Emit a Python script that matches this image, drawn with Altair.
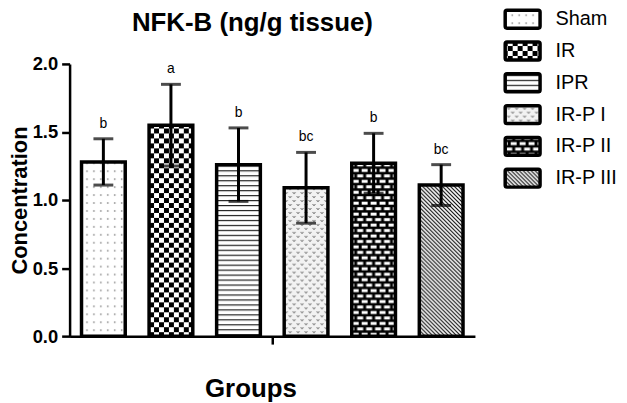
import altair as alt
import pandas as pd
import jinja2

# ---- data ----
groups = ["Sham", "IR", "IPR", "IR-P I", "IR-P II", "IR-P III"]
means = [1.28, 1.55, 1.26, 1.09, 1.27, 1.11]
sds = [0.17, 0.30, 0.27, 0.26, 0.22, 0.15]
letters = ["b", "a", "b", "bc", "b", "bc"]
y_ticks = [0.0, 0.5, 1.0, 1.5, 2.0]

# ---- styling: one hatch pattern per group (defined in the page template) ----
pattern_fills = ["url(#pSham)", "url(#pIR)", "url(#pIPR)",
                 "url(#pIRP1)", "url(#pIRP2)", "url(#pIRP3)"]

df = pd.DataFrame({"group": groups, "mean": means, "sd": sds, "letter": letters})

FONT = "Liberation Sans"

x_enc = alt.X(
    "group:N",
    sort=groups,
    scale=alt.Scale(domain=groups, paddingInner=0, paddingOuter=0),
    axis=alt.Axis(
        values=["IPR"], bandPosition=1, labels=False,
        tickSize=8, tickWidth=2.5, tickColor="black",
        domainWidth=2.5, domainColor="black", grid=False,
        title="Groups", titleFont=FONT, titleFontSize=26, titleFontWeight="bold",
        titleColor="black", titleX=182, titleY=61, titleAlign="center",
        titleBaseline="alphabetic",
    ),
)

y_scale = alt.Scale(domain=[0, 2], nice=False, zero=True)
y_axis = alt.Axis(
    values=y_ticks, format=".1f",
    labelFont=FONT, labelFontSize=18.5, labelFontWeight="bold", labelColor="black",
    labelPadding=4, labelFlush=False,
    tickSize=8, tickWidth=2.5, tickColor="black",
    domainWidth=2.5, domainColor="black", grid=False,
    title="Concentration", titleFont=FONT, titleFontSize=22, titleFontWeight="bold",
    titleColor="black", titleX=-50, titleY=137, titleAngle=270,
    titleAlign="center", titleBaseline="middle",
)

# rounded rectangle swatch, 34 x 18 px at symbolSize 324 (unit = 9 px)
legend_shape = ("M-1.75,-1 H1.75 A0.2,0.2 0 0 1 1.95,-0.8 V0.8 A0.2,0.2 0 0 1 1.75,1 "
                "H-1.75 A0.2,0.2 0 0 1 -1.95,0.8 V-0.8 A0.2,0.2 0 0 1 -1.75,-1 Z")

base = alt.Chart(df).transform_calculate(
    lo="datum.mean - datum.sd", hi="datum.mean + datum.sd"
)

bars = base.mark_bar(width=44, stroke="black", strokeWidth=3.5).encode(
    x=x_enc,
    y=alt.Y("mean:Q", scale=y_scale, axis=y_axis),
    fill=alt.Fill(
        "group:N",
        scale=alt.Scale(domain=groups, range=pattern_fills),
        legend=alt.Legend(
            title=None, orient="none", legendX=445, legendY=-56, padding=0,
            symbolType=legend_shape, symbolSize=324,
            symbolStrokeColor="black", symbolStrokeWidth=3.5, symbolOpacity=1,
            labelFont=FONT, labelFontSize=20, labelColor="black",
            labelOffset=22, rowPadding=0,
        ),
    ),
)

err = base.mark_rule(strokeWidth=3, color="black").encode(
    x=x_enc, y=alt.Y("lo:Q", scale=y_scale, axis=y_axis), y2="hi:Q"
)
cap_hi = base.mark_tick(orient="horizontal", size=20, thickness=3, color="black").encode(
    x=x_enc, y=alt.Y("hi:Q", scale=y_scale, axis=y_axis)
)
cap_lo = base.mark_tick(orient="horizontal", size=20, thickness=3, color="black").encode(
    x=x_enc, y=alt.Y("lo:Q", scale=y_scale, axis=y_axis)
)
labels = base.mark_text(font=FONT, fontSize=14, color="black",
                        baseline="alphabetic", dy=-11).encode(
    x=x_enc, y=alt.Y("hi:Q", scale=y_scale, axis=y_axis), text="letter:N"
)

chart = alt.layer(bars, err, cap_hi, cap_lo, labels).properties(
    width=408, height=274,
    autosize=alt.AutoSizeParams(type="none"),
    padding={"left": 62, "top": 55, "right": 145, "bottom": 66},
    title=alt.TitleParams(
        text="NFK-B (ng/g tissue)", font=FONT, fontSize=26, fontWeight="bold",
        color="black", anchor="middle", dx=-20, offset=-28,
    ),
).configure_view(stroke=None)

PATTERNS = """
<svg width="0" height="0" style="position:absolute;left:0;top:0" aria-hidden="true">
 <defs>
  <pattern id="pSham" patternUnits="userSpaceOnUse" width="7" height="8">
   <rect width="7" height="8" fill="#ffffff"/>
   <circle cx="3.5" cy="4" r="0.75" fill="#555555"/>
  </pattern>
  <pattern id="pIR" patternUnits="userSpaceOnUse" width="10" height="10">
   <rect width="10" height="10" fill="#ffffff"/>
   <rect width="5" height="5" fill="#000000"/>
   <rect x="5" y="5" width="5" height="5" fill="#000000"/>
  </pattern>
  <pattern id="pIPR" patternUnits="userSpaceOnUse" width="6" height="5">
   <rect width="6" height="5" fill="#ffffff"/>
   <rect y="2" width="6" height="1.2" fill="#222222"/>
  </pattern>
  <pattern id="pIRP1" patternUnits="userSpaceOnUse" width="8" height="8">
   <rect width="8" height="8" fill="#f2f2f2"/>
   <path d="M0.6,1 L2,2.8 L3.4,1 M4.6,5 L6,6.8 L7.4,5" stroke="#666666" stroke-width="1" fill="none"/>
  </pattern>
  <pattern id="pIRP2" patternUnits="userSpaceOnUse" width="18" height="11">
   <rect width="18" height="11" fill="#000000"/>
   <rect x="1.5" y="1.2" width="6" height="3" fill="#ffffff"/>
   <rect x="10.5" y="1.2" width="6" height="3" fill="#ffffff"/>
   <rect x="-3" y="6.7" width="6" height="3" fill="#ffffff"/>
   <rect x="6" y="6.7" width="6" height="3" fill="#ffffff"/>
   <rect x="15" y="6.7" width="6" height="3" fill="#ffffff"/>
  </pattern>
  <pattern id="pIRP3" patternUnits="userSpaceOnUse" width="4" height="4">
   <rect width="4" height="4" fill="#ffffff"/>
   <path d="M-1,-1 L5,5 M-1,3 L1,5 M3,-1 L5,1" stroke="#000000" stroke-width="1.1"/>
  </pattern>
 </defs>
</svg>
"""

TEMPLATE = jinja2.Template("""<!DOCTYPE html>
<html>
<head>
  <meta charset="utf-8">
  <style>
    html, body { overflow: hidden; }
    #{{ output_div }}.vega-embed { width: 100%; display: flex; }
  </style>
  <script type="text/javascript" src="{{ base_url }}/vega@{{ vega_version }}"></script>
  <script type="text/javascript" src="{{ base_url }}/vega-lite@{{ vegalite_version }}"></script>
  <script type="text/javascript" src="{{ base_url }}/vega-embed@{{ vegaembed_version }}"></script>
</head>
<body>
""" + PATTERNS + """
  <div id="{{ output_div }}"></div>
  <script>
    (function(vegaEmbed) {
      var spec = {{ spec }};
      var embedOpt = {{ embed_options }};
      function showError(el, error){
          el.innerHTML = ('<div style="color:red;"><p>JavaScript Error: ' + error.message + '</p></div>');
          throw error;
      }
      const el = document.getElementById('{{ output_div }}');
      vegaEmbed("#{{ output_div }}", spec, embedOpt).catch(error => showError(el, error));
    })(vegaEmbed);
  </script>
</body>
</html>
""")

chart.save("out.html", embed_options={"renderer": "svg", "actions": False}, template=TEMPLATE)
